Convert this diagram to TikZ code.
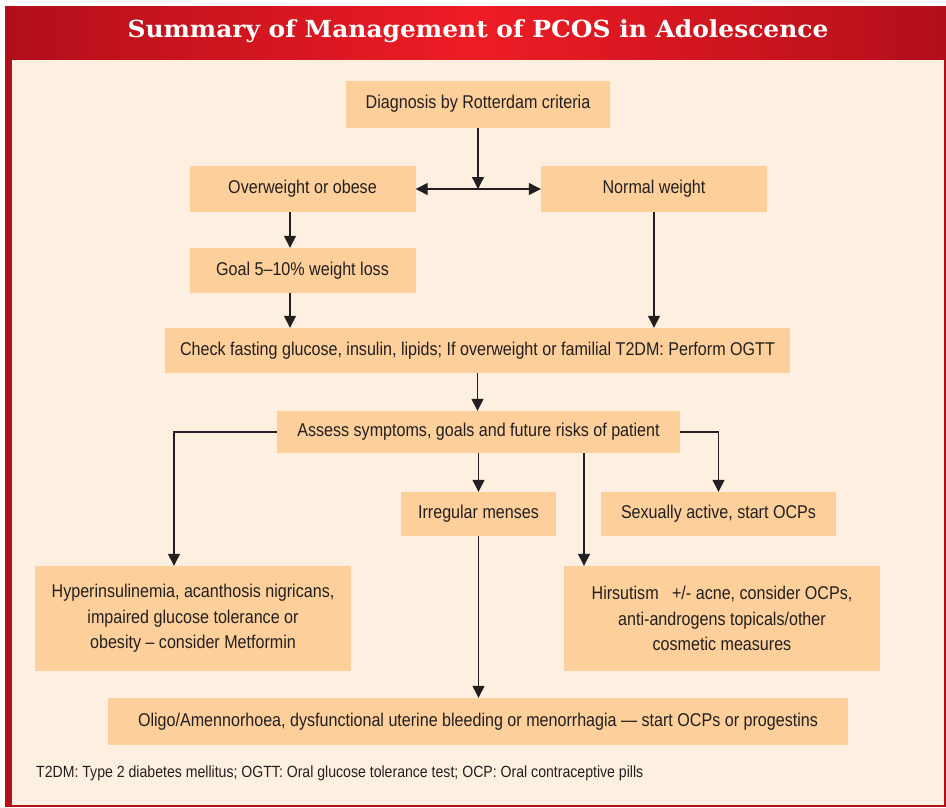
\documentclass[tikz,border=0pt]{standalone}
\usepackage{fontspec}
\setmainfont[FakeStretch=0.87]{Liberation Sans}
\newfontfamily\titlefont[FakeStretch=1.06]{DejaVu Serif}
\usetikzlibrary{arrows.meta}
\definecolor{peach}{HTML}{FDCF9B}
\definecolor{cream}{HTML}{FEF0E0}
\definecolor{reddark}{HTML}{B20F1A}
\definecolor{redlight}{HTML}{EE1C25}
\definecolor{ink}{HTML}{231F20}
\tikzset{
  box/.style={fill=peach, inner sep=0pt, align=center, text=ink,
    font=\fontsize{18.5}{25.5}\selectfont},
  arr/.style={draw=ink, line width=1.3pt, -{Triangle[length=12pt,width=12pt]}},
  darr/.style={draw=ink, line width=1.3pt, {Triangle[length=12pt,width=12pt]}-{Triangle[length=12pt,width=12pt]}},
}
\begin{document}
\begin{tikzpicture}[x=1pt,y=-1pt]
\useasboundingbox (0,0) rectangle (946,807);
% frame
\fill[reddark] (5,6) rectangle (946,807);
\shade[left color=reddark, right color=reddark, middle color=redlight] (5,6) rectangle (946,60);
\fill[cream] (12,60) rectangle (944,805);
\node[text=white, font=\titlefont\bfseries\fontsize{23.5}{28}\selectfont] (title) at (478,31) {Summary of Management of PCOS in Adolescence};
% boxes
\node[box, minimum width=264pt, minimum height=47pt] (diag) at (478,104) {Diagnosis by Rotterdam criteria};
\node[box, minimum width=226pt, minimum height=46pt] (over) at (302.5,189) {Overweight or obese};
\node[box, minimum width=226pt, minimum height=46pt] (normal) at (654,189) {Normal weight};
\node[box, minimum width=226pt, minimum height=45pt] (goal) at (302.5,270.5) {Goal 5–10\% weight loss};
\node[box, minimum width=625pt, minimum height=45pt] (check) at (477.5,350.5) {Check fasting glucose, insulin, lipids; If overweight or familial T2DM: Perform OGTT};
\node[box, minimum width=403pt, minimum height=42pt] (assess) at (478.5,432) {Assess symptoms, goals and future risks of patient};
\node[box, minimum width=155pt, minimum height=44pt] (irreg) at (478.5,514) {Irregular menses};
\node[box, minimum width=235pt, minimum height=44pt] (sexual) at (718.5,514) {Sexually active, start OCPs};
\node[box, minimum width=316pt, minimum height=105pt] (hyper) at (193,618.5) {Hyperinsulinemia, acanthosis nigricans,\\impaired glucose tolerance or\\obesity – consider Metformin};
\node[box, minimum width=316pt, minimum height=105pt] (hirs) at (722,618.5) {Hirsutism \ \ +/- acne, consider OCPs,\\anti-androgens topicals/other\\cosmetic measures};
\node[box, minimum width=740pt, minimum height=47pt] (oligo) at (478,721.5) {Oligo/Amennorhoea, dysfunctional uterine bleeding or menorrhagia — start OCPs or progestins};
\node[anchor=base west, text=ink, inner sep=0pt, font=\fontsize{16.2}{18}\selectfont] (foot) at (36,777) {T2DM: Type 2 diabetes mellitus; OGTT: Oral glucose tolerance test; OCP: Oral contraceptive pills};
% helper coordinates
\coordinate (xg) at (290,0);
\coordinate (xl) at (174,0);
\coordinate (xr) at (584,0);
% connectors
\draw[arr] (diag.south) -- (diag.south |- over.east);
\draw[darr] (over.east) -- (normal.west);
\draw[arr] (xg |- over.south) -- (xg |- goal.north);
\draw[arr] (xg |- goal.south) -- (xg |- check.north);
\draw[arr] (normal.south) -- (normal.south |- check.north);
\draw[arr] (check.south) -- (check.south |- assess.north);
\draw[arr] (assess.west) -| (xl |- hyper.north);
\draw[arr] (assess.east) -| (sexual.north);
\draw[arr] (irreg.north |- assess.south) -- (irreg.north);
\draw[arr] (xr |- assess.south) -- (xr |- hirs.north);
\draw[arr] (irreg.south) -- (irreg.south |- oligo.north);
\end{tikzpicture}
\end{document}
